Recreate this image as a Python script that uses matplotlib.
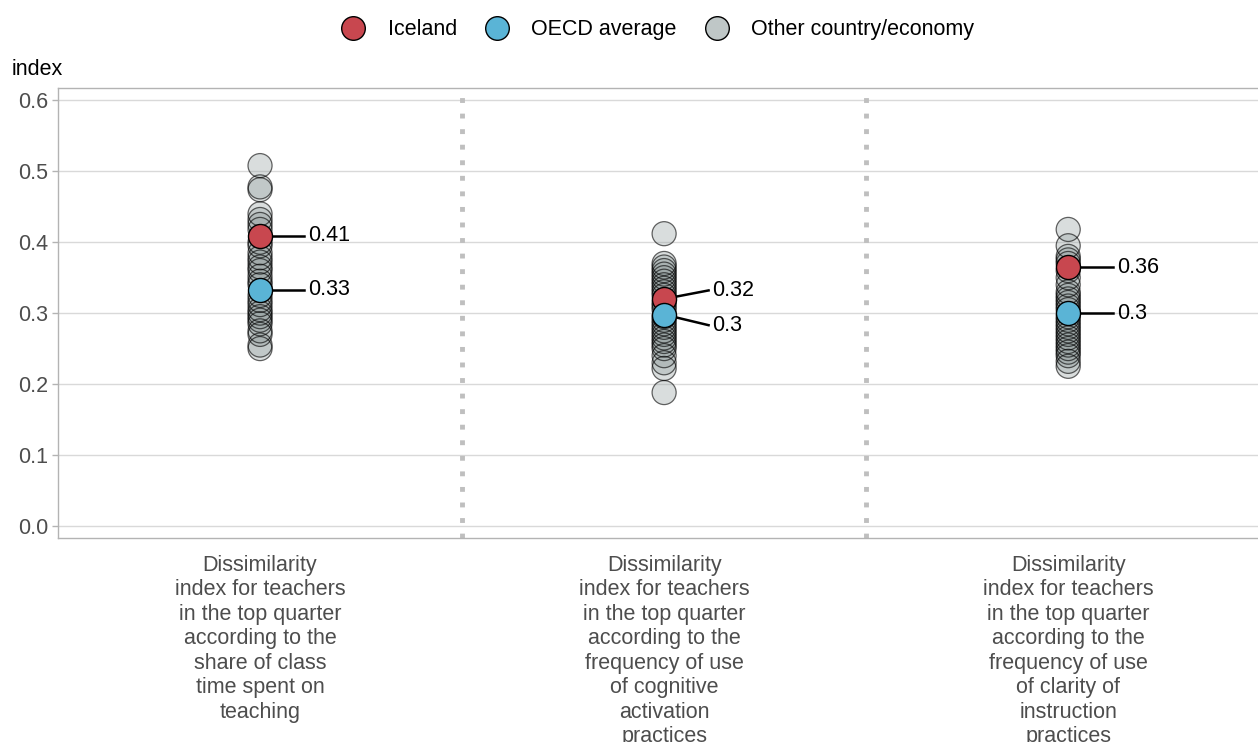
import matplotlib
matplotlib.use('Agg')
import matplotlib.pyplot as plt
from matplotlib.lines import Line2D

plt.rcParams['font.family'] = ['Liberation Sans', 'DejaVu Sans']

categories = [
    "Dissimilarity\nindex for teachers\nin the top quarter\naccording to the\nshare of class\ntime spent on\nteaching",
    "Dissimilarity\nindex for teachers\nin the top quarter\naccording to the\nfrequency of use\nof cognitive\nactivation\npractices",
    "Dissimilarity\nindex for teachers\nin the top quarter\naccording to the\nfrequency of use\nof clarity of\ninstruction\npractices",
]

others_1 = [0.508, 0.478, 0.474, 0.44, 0.432, 0.425, 0.418, 0.40, 0.395, 0.385, 0.378,
            0.372, 0.365, 0.36, 0.352, 0.345, 0.34, 0.325, 0.318, 0.312, 0.305, 0.30,
            0.295, 0.29, 0.285, 0.275, 0.27, 0.255, 0.25]
others_2 = [0.412, 0.37, 0.365, 0.36, 0.355, 0.35, 0.345, 0.34, 0.335, 0.33, 0.325,
            0.315, 0.31, 0.305, 0.295, 0.29, 0.285, 0.28, 0.275, 0.27, 0.265, 0.26,
            0.255, 0.25, 0.24, 0.23, 0.222, 0.188]
others_3 = [0.418, 0.395, 0.38, 0.375, 0.37, 0.36, 0.35, 0.34, 0.33, 0.325, 0.32,
            0.315, 0.31, 0.305, 0.295, 0.29, 0.285, 0.28, 0.275, 0.27, 0.265, 0.26,
            0.255, 0.25, 0.245, 0.24, 0.232, 0.225]
others = [others_1, others_2, others_3]

iceland = [0.409, 0.320, 0.365]
oecd = [0.333, 0.298, 0.300]
iceland_labels = ["0.41", "0.32", "0.36"]
oecd_labels = ["0.33", "0.3", "0.3"]

c_ice = '#C8474F'
c_oecd = '#5AB4D6'
c_other = '#BFC7C7'
grid_c = '#d9d9d9'
txt_c = '#4d4d4d'
fs = 15.5

fig = plt.figure(figsize=(12.58, 7.42), dpi=100)
ax = fig.add_axes([0.0461, 0.275, 0.954, 0.606])
ax.set_xlim(-0.5, 2.47)
ax.set_ylim(-0.017, 0.617)

ax.set_yticks([0, 0.1, 0.2, 0.3, 0.4, 0.5, 0.6])
ax.set_yticklabels(["0.0", "0.1", "0.2", "0.3", "0.4", "0.5", "0.6"])
ax.yaxis.grid(True, color=grid_c, lw=1)
ax.set_axisbelow(True)
ax.tick_params(axis='y', colors=txt_c, labelsize=fs, length=4, width=1,
               color='#b3b3b3', pad=3)
ax.set_xticks(range(3))
ax.set_xticklabels(categories, fontsize=fs, color=txt_c, linespacing=1.22)
ax.tick_params(axis='x', length=0, pad=12)
for s in ax.spines.values():
    s.set_color('#b3b3b3')
    s.set_linewidth(1)
ax.spines['right'].set_visible(False)

for xv in [0.5, 1.5]:
    ax.axvline(xv, color='#bfbfbf', lw=3.5, ls=(0, (1, 2.2)), zorder=1)

ms = 300
for i, vals in enumerate(others):
    ax.scatter([i] * len(vals), vals, s=ms, facecolor='#98A3A3', alpha=0.36,
               edgecolor='none', zorder=3)
    ax.scatter([i] * len(vals), vals, s=ms, facecolor='none',
               edgecolor=(0, 0, 0, 0.6), linewidth=0.9, zorder=3)

ax.scatter(range(3), iceland, s=ms, facecolor=c_ice, edgecolor='black', linewidth=1, zorder=5)
ax.scatter(range(3), oecd, s=ms, facecolor=c_oecd, edgecolor='black', linewidth=1, zorder=5)

dx = 0.11
ice_dy = [0.0, 0.012, 0.0]
oecd_dy = [0.0, -0.015, 0.0]
for i in range(3):
    for val, lab, dy in [(iceland[i], iceland_labels[i], ice_dy[i]),
                         (oecd[i], oecd_labels[i], oecd_dy[i])]:
        ax.plot([i, i + dx], [val, val + dy], color='black', lw=1.8, zorder=4)
        ax.text(i + dx + 0.01, val + dy, lab, fontsize=fs, va='center', ha='left',
                color='black', zorder=6)

fig.text(0.0095, 0.906, "index", fontsize=fs, color='black', va='center', ha='left')

handles = [
    Line2D([], [], marker='o', ls='none', markersize=17, markerfacecolor=c_ice, markeredgecolor='black'),
    Line2D([], [], marker='o', ls='none', markersize=17, markerfacecolor=c_oecd, markeredgecolor='black'),
    Line2D([], [], marker='o', ls='none', markersize=17, markerfacecolor=c_other, markeredgecolor='black'),
]
fig.legend(handles, ["Iceland", "OECD average", "Other country/economy"], loc='center',
           bbox_to_anchor=(0.519, 0.960), ncol=3, frameon=False, fontsize=fs,
           handletextpad=0.6, columnspacing=0.85)

fig.savefig("out.png", dpi=100, facecolor='white')
